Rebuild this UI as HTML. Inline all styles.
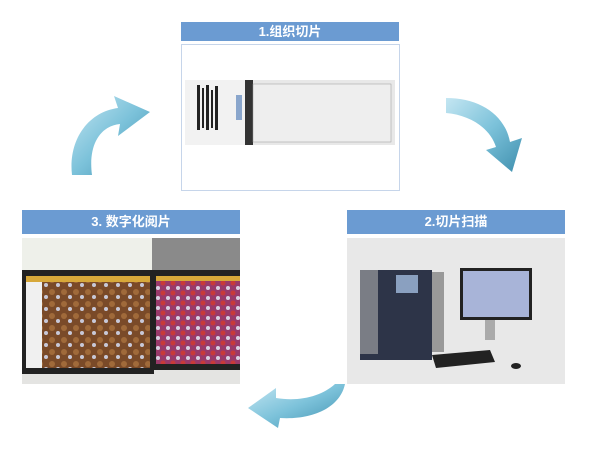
<!DOCTYPE html>
<html><head><meta charset="utf-8"><style>
html,body{margin:0;padding:0;background:#fff}
body{width:600px;height:450px;position:relative;overflow:hidden;font-family:"Liberation Sans","Noto Sans CJK SC",sans-serif}
.h{position:absolute;background:#6b9bd2;color:#fff;font-weight:bold;font-size:13px;text-align:center;line-height:22px}
</style></head><body>
<div class="h" style="left:181px;top:22px;width:218px;height:19px;line-height:19px">1.组织切片</div>
<div class="h" style="left:22px;top:210px;width:218px;height:24px;line-height:24px">3. 数字化阅片</div>
<div class="h" style="left:347px;top:210px;width:218px;height:24px;line-height:24px">2.切片扫描</div>
<svg width="600" height="450" style="position:absolute;left:0;top:0">
<defs>
<linearGradient id="ag" x1="0" y1="0" x2="1" y2="1"><stop offset="0" stop-color="#c4e6f2"/><stop offset="0.5" stop-color="#7cc2da"/><stop offset="1" stop-color="#3f8fae"/></linearGradient>
<pattern id="br" width="12" height="12" patternUnits="userSpaceOnUse"><rect width="12" height="12" fill="#7a4a28"/><circle cx="4" cy="4" r="3" fill="#a06a3a"/><circle cx="10" cy="9" r="2" fill="#c8c8d8"/></pattern>
<pattern id="pk" width="10" height="10" patternUnits="userSpaceOnUse"><rect width="10" height="10" fill="#9a3a6a"/><circle cx="3" cy="3" r="2.5" fill="#c83a3a"/><circle cx="8" cy="8" r="2" fill="#d8d0e0"/></pattern>
</defs>
<rect x="181.5" y="44.5" width="218" height="146" fill="#fff" stroke="#c6d5ea"/>
<rect x="185" y="80" width="210" height="65" fill="#e8e8e8"/>
<rect x="185" y="80" width="62" height="65" fill="#f2f2f2"/>
<rect x="245" y="80" width="8" height="65" fill="#333"/>
<rect x="253" y="84" width="138" height="58" fill="#eeeeee" stroke="#999" stroke-width="0.5"/>
<g fill="#222"><rect x="197" y="85" width="3" height="45"/><rect x="202" y="88" width="2" height="40"/><rect x="206" y="85" width="3" height="45"/><rect x="211" y="90" width="2" height="38"/><rect x="215" y="86" width="3" height="44"/></g>
<rect x="236" y="95" width="6" height="25" fill="#8aa6cc"/>
<rect x="22" y="238" width="218" height="146" fill="#e4e4e2"/>
<rect x="22" y="238" width="130" height="32" fill="#eef0ea"/>
<rect x="152" y="238" width="88" height="32" fill="#8a8a8a"/>
<rect x="22" y="270" width="132" height="104" fill="#222"/>
<rect x="26" y="276" width="124" height="92" fill="url(#br)"/>
<rect x="26" y="276" width="124" height="6" fill="#d7a83a"/>
<rect x="26" y="282" width="16" height="86" fill="#f0f0f0"/>
<rect x="152" y="270" width="88" height="100" fill="#222"/>
<rect x="156" y="276" width="84" height="88" fill="url(#pk)"/>
<rect x="156" y="276" width="84" height="5" fill="#d7a83a"/>
<rect x="347" y="238" width="218" height="146" fill="#e8e8e8"/>
<rect x="360" y="270" width="72" height="90" fill="#2d3448"/>
<rect x="360" y="270" width="18" height="84" fill="#7a7d85"/>
<rect x="396" y="275" width="22" height="18" fill="#8aa0c0"/>
<rect x="432" y="272" width="12" height="80" fill="#999"/>
<rect x="460" y="268" width="72" height="52" fill="#222"/>
<rect x="463" y="271" width="66" height="46" fill="#a8b4d8"/>
<rect x="485" y="320" width="10" height="20" fill="#aaa"/>
<polygon points="432,355 490,350 495,362 436,368" fill="#222"/>
<ellipse cx="516" cy="366" rx="5" ry="3" fill="#222"/>
<path d="M72,175 C68,140 88,112 118,108 L114,96 L150,112 L118,136 L120,124 C100,126 88,145 92,175 Z" fill="url(#ag)"/>
<path d="M446,98 C480,98 505,115 510,142 L522,138 L512,172 L486,150 L496,147 C490,128 470,115 446,113 Z" fill="url(#ag)"/>
<path d="M345,384 C340,408 312,420 280,418 L278,428 L248,408 L276,388 L276,398 C300,402 322,396 335,384 Z" fill="url(#ag)"/>
</svg>
</body></html>
